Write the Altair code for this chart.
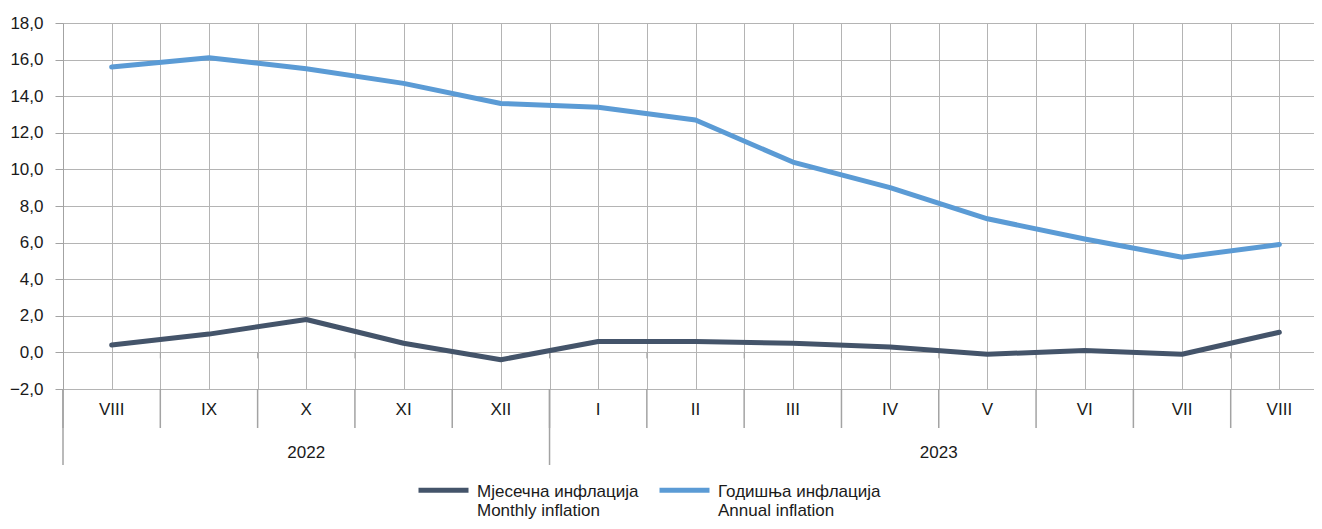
import altair as alt
import pandas as pd

# ---- data ----
months = ["VIII", "IX", "X", "XI", "XII", "I", "II", "III", "IV", "V", "VI", "VII", "VIII"]
years = ["2022"] * 5 + ["2023"] * 8
monthly = [0.4, 1.0, 1.8, 0.5, -0.4, 0.6, 0.6, 0.5, 0.3, -0.1, 0.1, -0.1, 1.1]
annual = [15.6, 16.1, 15.5, 14.7, 13.6, 13.4, 12.7, 10.4, 9.0, 7.3, 6.2, 5.2, 5.9]
series_names = ["Мјесечна инфлација|Monthly inflation", "Годишња инфлација|Annual inflation"]
series_colors = ["#44546A", "#5B9BD5"]
y_ticks = [-2, 0, 2, 4, 6, 8, 10, 12, 14, 16, 18]

FONT = "Liberation Sans, Arial"
FS = 17
W, H = 1265, 366
PAD_L = 55
PAD_R = 1306 - PAD_L - W  # plot runs slightly past the page edge, as in the reference
GRID = "#b4b4b4"
TICK = "#a3a3a3"
TXT = "#1a1a1a"

n = len(months)
idx = list(range(n))
cats = pd.DataFrame({"i": idx, "month": months, "year": years})
long = pd.DataFrame({
    "i": idx * 2,
    "value": monthly + annual,
    "series": [series_names[0]] * n + [series_names[1]] * n,
})
bounds = pd.DataFrame({"b": [i - 0.5 for i in range(n + 1)]})
grid_vals = sorted(idx + [i - 0.5 for i in range(n + 1)])

xscale = alt.Scale(domain=[-0.5, n - 0.5], nice=False, zero=False)
yscale = alt.Scale(domain=[-2, 18], nice=False, zero=False)

xaxis = alt.Axis(values=grid_vals, grid=True, gridColor=GRID, gridWidth=1,
                 labels=False, ticks=False, domain=False, title=None)
yaxis = alt.Axis(values=y_ticks, grid=True, gridColor=GRID, gridWidth=1,
                 domain=True, domainColor=TICK, tickColor=TICK, tickSize=8,
                 labelPadding=12, labelFont=FONT, labelFontSize=FS, labelColor=TXT,
                 labelOverlap=False,
                 labelExpr="replace(format(datum.value, '.1f'), '.', ',')",
                 title=None)

lines = alt.Chart(long).mark_line(strokeWidth=5, strokeCap="round", strokeJoin="round").encode(
    x=alt.X("i:Q", scale=xscale, axis=xaxis),
    y=alt.Y("value:Q", scale=yscale, axis=yaxis),
    color=alt.Color("series:N",
                    scale=alt.Scale(domain=series_names, range=series_colors),
                    sort=series_names,
                    legend=alt.Legend(
                        orient="none", direction="horizontal", legendX=353, legendY=446,
                        title=None, symbolType="M-1,-0.26H1", symbolSize=2500,
                        symbolStrokeWidth=5, symbolFillColor="transparent",
                        labelFont=FONT, labelFontSize=FS, labelColor=TXT,
                        labelBaseline="alphabetic", labelOffset=6, columnPadding=10,
                        labelExpr="split(datum.label, '|')", labelLimit=400,
                        padding=0)),
)

zero_stubs = alt.Chart(bounds).transform_filter("datum.b > 0").mark_rule(
    color=TICK, strokeWidth=1, y2Offset=6).encode(
    x=alt.X("b:Q", scale=xscale, axis=xaxis),
    y=alt.datum(0, scale=yscale, axis=yaxis),
    y2=alt.datum(0),
)

month_ticks = alt.Chart(bounds).mark_rule(color=TICK, strokeWidth=1.5).encode(
    x=alt.X("b:Q", scale=xscale, axis=xaxis),
    y=alt.value(H),
    y2=alt.value(H + 39),
)

month_labels = alt.Chart(cats).mark_text(
    font=FONT, fontSize=FS, color=TXT, baseline="middle", align="center").encode(
    x=alt.X("i:Q", scale=xscale, axis=xaxis),
    y=alt.value(H + 21),
    text="month:N",
)

year_seps = alt.Chart(cats).transform_aggregate(
    start="min(i)", groupby=["year"]).transform_calculate(
    b="datum.start - 0.5").mark_rule(color=TICK, strokeWidth=1.5).encode(
    x=alt.X("b:Q", scale=xscale, axis=xaxis),
    y=alt.value(H),
    y2=alt.value(H + 76),
)

year_labels = alt.Chart(cats).transform_aggregate(
    mid="mean(i)", groupby=["year"]).mark_text(
    font=FONT, fontSize=FS, color=TXT, baseline="middle", align="center").encode(
    x=alt.X("mid:Q", scale=xscale, axis=xaxis),
    y=alt.value(H + 64),
    text="year:N",
)

chart = alt.layer(
    zero_stubs, month_ticks, year_seps, month_labels, year_labels, lines
).properties(
    width=W, height=H,
    autosize=alt.AutoSizeParams(type="none"),
    padding={"left": PAD_L, "top": 15, "right": PAD_R, "bottom": 132},
).configure_view(stroke=None).configure(background="white")

chart.save("out.html", embed_options={"renderer": "svg", "actions": False})
